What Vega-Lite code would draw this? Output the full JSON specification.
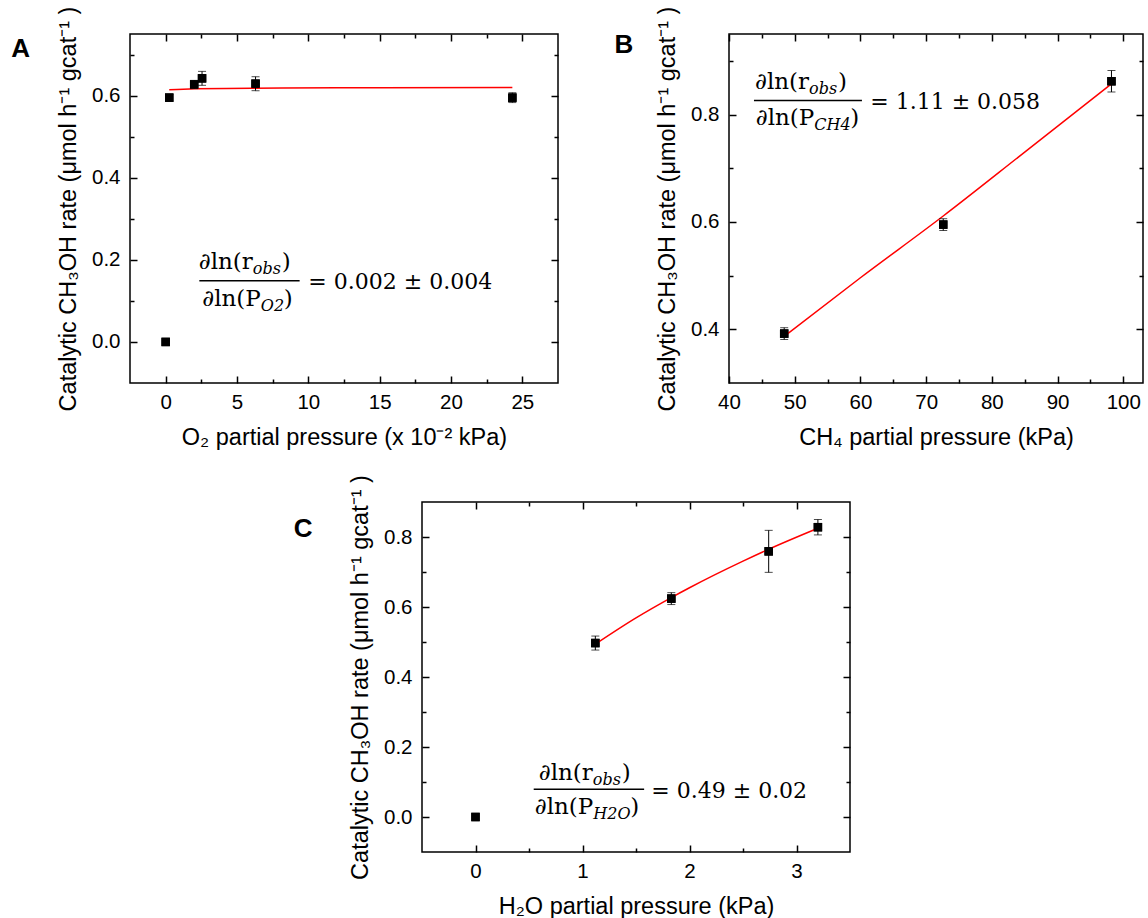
{
  "$schema": "https://vega.github.io/schema/vega-lite/v6.json",
  "background": "white",
  "padding": {"left": 10, "top": 5, "right": 0, "bottom": 0},
  "config": {
    "font": "Liberation Sans",
    "view": {"stroke": "black", "strokeWidth": 1.5},
    "axis": {
      "labelFont": "Liberation Sans", "labelFontSize": 20.5, "labelColor": "black",
      "titleFont": "Liberation Sans", "titleFontSize": 23.5, "titleFontWeight": "normal", "titleColor": "black",
      "tickColor": "black", "tickWidth": 1.5, "domain": false, "grid": false,
      "labelOverlap": false, "labelFlush": false
    },
    "axisX": {"labelPadding": 16, "titlePadding": 10},
    "axisY": {"labelPadding": 17, "titlePadding": 11}
  },
  "datasets": {
    "ptsA": [
      {"p": 0, "rate": 0},
      {"p": 0.25, "rate": 0.595, "lo": 0.587, "hi": 0.603},
      {"p": 2.0, "rate": 0.627, "lo": 0.617, "hi": 0.637},
      {"p": 2.55, "rate": 0.642, "lo": 0.625, "hi": 0.659},
      {"p": 6.3, "rate": 0.629, "lo": 0.612, "hi": 0.646},
      {"p": 24.3, "rate": 0.595, "lo": 0.583, "hi": 0.607}
    ],
    "fitA": [
      {"p": 0.25, "fit": 0.614}, {"p": 2, "fit": 0.6166}, {"p": 6, "fit": 0.6179},
      {"p": 12, "fit": 0.6188}, {"p": 24.3, "fit": 0.6197}
    ],
    "ptsB": [
      {"p": 48.4, "rate": 0.392, "lo": 0.381, "hi": 0.403},
      {"p": 72.6, "rate": 0.595, "lo": 0.584, "hi": 0.606},
      {"p": 98.2, "rate": 0.862, "lo": 0.842, "hi": 0.882}
    ],
    "fitB": [
      {"p": 48.4, "fit": 0.387}, {"p": 60, "fit": 0.496}, {"p": 72.6, "fit": 0.611},
      {"p": 85, "fit": 0.73}, {"p": 98.2, "fit": 0.857}
    ],
    "ptsC": [
      {"p": 0, "rate": 0},
      {"p": 1.12, "rate": 0.497, "lo": 0.477, "hi": 0.517},
      {"p": 1.83, "rate": 0.624, "lo": 0.607, "hi": 0.641},
      {"p": 2.74, "rate": 0.759, "lo": 0.699, "hi": 0.819},
      {"p": 3.2, "rate": 0.828, "lo": 0.806, "hi": 0.85}
    ],
    "fitC": [
      {"p": 1.12, "fit": 0.494}, {"p": 1.5, "fit": 0.569}, {"p": 1.83, "fit": 0.627},
      {"p": 2.0, "fit": 0.655}, {"p": 2.5, "fit": 0.731}, {"p": 2.74, "fit": 0.765}, {"p": 3.2, "fit": 0.825}
    ]
  },
  "spacing": 23,
  "vconcat": [
    {
      "spacing": 171,
      "bounds": "flush",
      "hconcat": [
        {
          "width": 428, "height": 349,
          "resolve": {"axis": {"x": "independent", "y": "independent"}},
          "layer": [
            {"data": {"name": "ptsA"}, "mark": {"type": "square", "size": 72, "color": "black", "opacity": 1},
             "encoding": {
               "x": {"field": "p", "type": "quantitative", "scale": {"domain": [-2.5, 27.5], "nice": false, "zero": false},
                     "axis": {"orient": "bottom", "title": "O₂ partial pressure (x 10⁻² kPa)", "values": [0, 2.5, 5, 7.5, 10, 12.5, 15, 17.5, 20, 22.5, 25], "format": ".0f",
                              "labelExpr": "datum.value % 5 == 0 ? datum.label : ''",
                              "tickSize": {"condition": {"test": "datum.value % 5 == 0", "value": -7}, "value": -4}}},
               "y": {"field": "rate", "type": "quantitative", "scale": {"domain": [-0.1, 0.75], "nice": false, "zero": false},
                     "axis": {"orient": "left", "title": "Catalytic CH₃OH rate (μmol h⁻¹ gcat⁻¹ )", "values": [0, 0.1, 0.2, 0.3, 0.4, 0.5, 0.6, 0.7], "format": ".1f",
                              "labelExpr": "round(datum.value*10) % 2 == 0 ? datum.label : ''",
                              "tickSize": {"condition": {"test": "round(datum.value*10) % 2 == 0", "value": -7}, "value": -4}}}
             }},
            {"data": {"name": "ptsA"}, "mark": {"type": "point", "opacity": 0},
             "encoding": {
               "x": {"field": "p", "type": "quantitative",
                     "axis": {"orient": "top", "labels": false, "title": null, "values": [0, 2.5, 5, 7.5, 10, 12.5, 15, 17.5, 20, 22.5, 25],
                              "tickSize": {"condition": {"test": "datum.value % 5 == 0", "value": -7}, "value": -4}}},
               "y": {"field": "rate", "type": "quantitative",
                     "axis": {"orient": "right", "labels": false, "title": null, "values": [0, 0.1, 0.2, 0.3, 0.4, 0.5, 0.6, 0.7],
                              "tickSize": {"condition": {"test": "round(datum.value*10) % 2 == 0", "value": -7}, "value": -4}}}
             }},
            {"data": {"name": "fitA"}, "mark": {"type": "line", "color": "#ff0000", "strokeWidth": 1.5, "interpolate": "monotone"},
             "encoding": {"x": {"field": "p", "type": "quantitative", "axis": null}, "y": {"field": "fit", "type": "quantitative", "axis": null}}},
            {"data": {"name": "ptsA"}, "transform": [{"filter": "isValid(datum.lo)"}],
             "mark": {"type": "errorbar", "ticks": true, "size": 8, "thickness": 1, "color": "black"},
             "encoding": {"x": {"field": "p", "type": "quantitative", "axis": null}, "y": {"field": "lo", "type": "quantitative", "axis": null}, "y2": {"field": "hi"}}},
            {"data": {"name": "ptsA"}, "mark": {"type": "square", "size": 72, "color": "black", "opacity": 1},
             "encoding": {"x": {"field": "p", "type": "quantitative", "axis": null}, "y": {"field": "rate", "type": "quantitative", "axis": null}}},
            {"data": {"values": [{}]}, "mark": {"type": "text", "text": "∂ln(r", "font": "DejaVu Serif", "fontSize": 23, "align": "right", "baseline": "alphabetic", "color": "black"},
             "encoding": {"x": {"datum": 6.11, "type": "quantitative", "axis": null}, "y": {"datum": 0.177, "type": "quantitative", "axis": null}}},
            {"data": {"values": [{}]}, "mark": {"type": "text", "text": "obs", "font": "DejaVu Serif", "fontStyle": "italic", "fontSize": 16, "align": "left", "baseline": "alphabetic", "dy": 5, "color": "black"},
             "encoding": {"x": {"datum": 6.11, "type": "quantitative", "axis": null}, "y": {"datum": 0.177, "type": "quantitative", "axis": null}}},
            {"data": {"values": [{}]}, "mark": {"type": "text", "text": ")", "font": "DejaVu Serif", "fontSize": 23, "align": "left", "baseline": "alphabetic", "dx": 29, "color": "black"},
             "encoding": {"x": {"datum": 6.11, "type": "quantitative", "axis": null}, "y": {"datum": 0.177, "type": "quantitative", "axis": null}}},
            {"data": {"values": [{}]}, "mark": {"type": "text", "text": "∂ln(P", "font": "DejaVu Serif", "fontSize": 23, "align": "right", "baseline": "alphabetic", "color": "black"},
             "encoding": {"x": {"datum": 6.67, "type": "quantitative", "axis": null}, "y": {"datum": 0.088, "type": "quantitative", "axis": null}}},
            {"data": {"values": [{}]}, "mark": {"type": "text", "text": "O2", "font": "DejaVu Serif", "fontStyle": "italic", "fontSize": 16, "align": "left", "baseline": "alphabetic", "dy": 5, "color": "black"},
             "encoding": {"x": {"datum": 6.67, "type": "quantitative", "axis": null}, "y": {"datum": 0.088, "type": "quantitative", "axis": null}}},
            {"data": {"values": [{}]}, "mark": {"type": "text", "text": ")", "font": "DejaVu Serif", "fontSize": 23, "align": "left", "baseline": "alphabetic", "dx": 23, "color": "black"},
             "encoding": {"x": {"datum": 6.67, "type": "quantitative", "axis": null}, "y": {"datum": 0.088, "type": "quantitative", "axis": null}}},
            {"data": {"values": [{}]}, "mark": {"type": "text", "text": "= 0.002 ± 0.004", "font": "DejaVu Serif", "fontSize": 22, "align": "left", "baseline": "alphabetic", "color": "black"},
             "encoding": {"x": {"datum": 10.0, "type": "quantitative", "axis": null}, "y": {"datum": 0.128, "type": "quantitative", "axis": null}}},
            {"data": {"values": [{}]}, "mark": {"type": "rule", "strokeWidth": 1.5, "color": "black"},
             "encoding": {"x": {"datum": 2.36, "type": "quantitative", "axis": null}, "x2": {"datum": 9.39}, "y": {"datum": 0.149, "type": "quantitative", "axis": null}}},
            {"data": {"values": [{}]}, "mark": {"type": "text", "text": "A", "font": "Liberation Sans", "fontWeight": "bold", "fontSize": 26, "align": "center", "baseline": "middle", "color": "black"},
             "encoding": {"x": {"datum": -10.17, "type": "quantitative", "axis": null}, "y": {"datum": 0.714, "type": "quantitative", "axis": null}}}
          ]
        },
        {
          "width": 414, "height": 349,
          "resolve": {"axis": {"x": "independent", "y": "independent"}},
          "layer": [
            {"data": {"name": "ptsB"}, "mark": {"type": "square", "size": 72, "color": "black", "opacity": 1},
             "encoding": {
               "x": {"field": "p", "type": "quantitative", "scale": {"domain": [40, 103], "nice": false, "zero": false},
                     "axis": {"orient": "bottom", "title": "CH₄ partial pressure (kPa)", "values": [40, 45, 50, 55, 60, 65, 70, 75, 80, 85, 90, 95, 100], "format": ".0f",
                              "labelExpr": "datum.value % 10 == 0 ? datum.label : ''",
                              "tickSize": {"condition": {"test": "datum.value % 10 == 0", "value": -7}, "value": -4}}},
               "y": {"field": "rate", "type": "quantitative", "scale": {"domain": [0.3, 0.95], "nice": false, "zero": false},
                     "axis": {"orient": "left", "title": "Catalytic CH₃OH rate (μmol h⁻¹ gcat⁻¹ )", "values": [0.4, 0.5, 0.6, 0.7, 0.8, 0.9], "format": ".1f",
                              "labelExpr": "round(datum.value*10) % 2 == 0 ? datum.label : ''",
                              "tickSize": {"condition": {"test": "round(datum.value*10) % 2 == 0", "value": -7}, "value": -4}}}
             }},
            {"data": {"name": "ptsB"}, "mark": {"type": "point", "opacity": 0},
             "encoding": {
               "x": {"field": "p", "type": "quantitative",
                     "axis": {"orient": "top", "labels": false, "title": null, "values": [40, 45, 50, 55, 60, 65, 70, 75, 80, 85, 90, 95, 100],
                              "tickSize": {"condition": {"test": "datum.value % 10 == 0", "value": -7}, "value": -4}}},
               "y": {"field": "rate", "type": "quantitative",
                     "axis": {"orient": "right", "labels": false, "title": null, "values": [0.4, 0.5, 0.6, 0.7, 0.8, 0.9],
                              "tickSize": {"condition": {"test": "round(datum.value*10) % 2 == 0", "value": -7}, "value": -4}}}
             }},
            {"data": {"name": "fitB"}, "mark": {"type": "line", "color": "#ff0000", "strokeWidth": 1.5, "interpolate": "monotone"},
             "encoding": {"x": {"field": "p", "type": "quantitative", "axis": null}, "y": {"field": "fit", "type": "quantitative", "axis": null}}},
            {"data": {"name": "ptsB"}, "mark": {"type": "errorbar", "ticks": true, "size": 8, "thickness": 1, "color": "black"},
             "encoding": {"x": {"field": "p", "type": "quantitative", "axis": null}, "y": {"field": "lo", "type": "quantitative", "axis": null}, "y2": {"field": "hi"}}},
            {"data": {"name": "ptsB"}, "mark": {"type": "square", "size": 72, "color": "black", "opacity": 1},
             "encoding": {"x": {"field": "p", "type": "quantitative", "axis": null}, "y": {"field": "rate", "type": "quantitative", "axis": null}}},
            {"data": {"values": [{}]}, "mark": {"type": "text", "text": "∂ln(r", "font": "DejaVu Serif", "fontSize": 23, "align": "right", "baseline": "alphabetic", "color": "black"},
             "encoding": {"x": {"datum": 52.18, "type": "quantitative", "axis": null}, "y": {"datum": 0.848, "type": "quantitative", "axis": null}}},
            {"data": {"values": [{}]}, "mark": {"type": "text", "text": "obs", "font": "DejaVu Serif", "fontStyle": "italic", "fontSize": 16, "align": "left", "baseline": "alphabetic", "dy": 5, "color": "black"},
             "encoding": {"x": {"datum": 52.18, "type": "quantitative", "axis": null}, "y": {"datum": 0.848, "type": "quantitative", "axis": null}}},
            {"data": {"values": [{}]}, "mark": {"type": "text", "text": ")", "font": "DejaVu Serif", "fontSize": 23, "align": "left", "baseline": "alphabetic", "dx": 29, "color": "black"},
             "encoding": {"x": {"datum": 52.18, "type": "quantitative", "axis": null}, "y": {"datum": 0.848, "type": "quantitative", "axis": null}}},
            {"data": {"values": [{}]}, "mark": {"type": "text", "text": "∂ln(P", "font": "DejaVu Serif", "fontSize": 23, "align": "right", "baseline": "alphabetic", "color": "black"},
             "encoding": {"x": {"datum": 52.98, "type": "quantitative", "axis": null}, "y": {"datum": 0.781, "type": "quantitative", "axis": null}}},
            {"data": {"values": [{}]}, "mark": {"type": "text", "text": "CH4", "font": "DejaVu Serif", "fontStyle": "italic", "fontSize": 16, "align": "left", "baseline": "alphabetic", "dy": 5, "color": "black"},
             "encoding": {"x": {"datum": 52.98, "type": "quantitative", "axis": null}, "y": {"datum": 0.781, "type": "quantitative", "axis": null}}},
            {"data": {"values": [{}]}, "mark": {"type": "text", "text": ")", "font": "DejaVu Serif", "fontSize": 23, "align": "left", "baseline": "alphabetic", "dx": 36, "color": "black"},
             "encoding": {"x": {"datum": 52.98, "type": "quantitative", "axis": null}, "y": {"datum": 0.781, "type": "quantitative", "axis": null}}},
            {"data": {"values": [{}]}, "mark": {"type": "text", "text": "= 1.11 ± 0.058", "font": "DejaVu Serif", "fontSize": 22, "align": "left", "baseline": "alphabetic", "color": "black"},
             "encoding": {"x": {"datum": 61.5, "type": "quantitative", "axis": null}, "y": {"datum": 0.811, "type": "quantitative", "axis": null}}},
            {"data": {"values": [{}]}, "mark": {"type": "rule", "strokeWidth": 1.5, "color": "black"},
             "encoding": {"x": {"datum": 43.8, "type": "quantitative", "axis": null}, "x2": {"datum": 60.23}, "y": {"datum": 0.826, "type": "quantitative", "axis": null}}},
            {"data": {"values": [{}]}, "mark": {"type": "text", "text": "B", "font": "Liberation Sans", "fontWeight": "bold", "fontSize": 26, "align": "center", "baseline": "middle", "color": "black"},
             "encoding": {"x": {"datum": 23.99, "type": "quantitative", "axis": null}, "y": {"datum": 0.929, "type": "quantitative", "axis": null}}}
          ]
        }
      ]
    },
    {
      "spacing": 20,
      "bounds": "flush",
      "hconcat": [
        {"width": 272, "height": 349, "data": {"values": [{}]}, "mark": {"type": "point", "opacity": 0}, "view": {"stroke": null}},
        {
          "width": 428, "height": 350,
          "resolve": {"axis": {"x": "independent", "y": "independent"}},
          "layer": [
            {"data": {"name": "ptsC"}, "mark": {"type": "square", "size": 72, "color": "black", "opacity": 1},
             "encoding": {
               "x": {"field": "p", "type": "quantitative", "scale": {"domain": [-0.5, 3.5], "nice": false, "zero": false},
                     "axis": {"orient": "bottom", "title": "H₂O partial pressure (kPa)", "values": [0, 0.5, 1, 1.5, 2, 2.5, 3], "format": ".0f",
                              "labelExpr": "datum.value == round(datum.value) ? datum.label : ''",
                              "tickSize": {"condition": {"test": "datum.value == round(datum.value)", "value": -7}, "value": -4}}},
               "y": {"field": "rate", "type": "quantitative", "scale": {"domain": [-0.1, 0.9], "nice": false, "zero": false},
                     "axis": {"orient": "left", "title": "Catalytic CH₃OH rate (μmol h⁻¹ gcat⁻¹ )", "values": [0, 0.1, 0.2, 0.3, 0.4, 0.5, 0.6, 0.7, 0.8], "format": ".1f",
                              "labelExpr": "round(datum.value*10) % 2 == 0 ? datum.label : ''",
                              "tickSize": {"condition": {"test": "round(datum.value*10) % 2 == 0", "value": -7}, "value": -4}}}
             }},
            {"data": {"name": "ptsC"}, "mark": {"type": "point", "opacity": 0},
             "encoding": {
               "x": {"field": "p", "type": "quantitative",
                     "axis": {"orient": "top", "labels": false, "title": null, "values": [0, 0.5, 1, 1.5, 2, 2.5, 3],
                              "tickSize": {"condition": {"test": "datum.value == round(datum.value)", "value": -7}, "value": -4}}},
               "y": {"field": "rate", "type": "quantitative",
                     "axis": {"orient": "right", "labels": false, "title": null, "values": [0, 0.1, 0.2, 0.3, 0.4, 0.5, 0.6, 0.7, 0.8],
                              "tickSize": {"condition": {"test": "round(datum.value*10) % 2 == 0", "value": -7}, "value": -4}}}
             }},
            {"data": {"name": "fitC"}, "mark": {"type": "line", "color": "#ff0000", "strokeWidth": 1.5, "interpolate": "monotone"},
             "encoding": {"x": {"field": "p", "type": "quantitative", "axis": null}, "y": {"field": "fit", "type": "quantitative", "axis": null}}},
            {"data": {"name": "ptsC"}, "transform": [{"filter": "isValid(datum.lo)"}],
             "mark": {"type": "errorbar", "ticks": true, "size": 8, "thickness": 1, "color": "black"},
             "encoding": {"x": {"field": "p", "type": "quantitative", "axis": null}, "y": {"field": "lo", "type": "quantitative", "axis": null}, "y2": {"field": "hi"}}},
            {"data": {"name": "ptsC"}, "mark": {"type": "square", "size": 72, "color": "black", "opacity": 1},
             "encoding": {"x": {"field": "p", "type": "quantitative", "axis": null}, "y": {"field": "rate", "type": "quantitative", "axis": null}}},
            {"data": {"values": [{}]}, "mark": {"type": "text", "text": "∂ln(r", "font": "DejaVu Serif", "fontSize": 23, "align": "right", "baseline": "alphabetic", "color": "black"},
             "encoding": {"x": {"datum": 1.096, "type": "quantitative", "axis": null}, "y": {"datum": 0.105, "type": "quantitative", "axis": null}}},
            {"data": {"values": [{}]}, "mark": {"type": "text", "text": "obs", "font": "DejaVu Serif", "fontStyle": "italic", "fontSize": 16, "align": "left", "baseline": "alphabetic", "dy": 5, "color": "black"},
             "encoding": {"x": {"datum": 1.096, "type": "quantitative", "axis": null}, "y": {"datum": 0.105, "type": "quantitative", "axis": null}}},
            {"data": {"values": [{}]}, "mark": {"type": "text", "text": ")", "font": "DejaVu Serif", "fontSize": 23, "align": "left", "baseline": "alphabetic", "dx": 29, "color": "black"},
             "encoding": {"x": {"datum": 1.096, "type": "quantitative", "axis": null}, "y": {"datum": 0.105, "type": "quantitative", "axis": null}}},
            {"data": {"values": [{}]}, "mark": {"type": "text", "text": "∂ln(P", "font": "DejaVu Serif", "fontSize": 23, "align": "right", "baseline": "alphabetic", "color": "black"},
             "encoding": {"x": {"datum": 1.101, "type": "quantitative", "axis": null}, "y": {"datum": 0.008, "type": "quantitative", "axis": null}}},
            {"data": {"values": [{}]}, "mark": {"type": "text", "text": "H2O", "font": "DejaVu Serif", "fontStyle": "italic", "fontSize": 16, "align": "left", "baseline": "alphabetic", "dy": 5, "color": "black"},
             "encoding": {"x": {"datum": 1.101, "type": "quantitative", "axis": null}, "y": {"datum": 0.008, "type": "quantitative", "axis": null}}},
            {"data": {"values": [{}]}, "mark": {"type": "text", "text": ")", "font": "DejaVu Serif", "fontSize": 23, "align": "left", "baseline": "alphabetic", "dx": 37, "color": "black"},
             "encoding": {"x": {"datum": 1.101, "type": "quantitative", "axis": null}, "y": {"datum": 0.008, "type": "quantitative", "axis": null}}},
            {"data": {"values": [{}]}, "mark": {"type": "text", "text": "= 0.49 ± 0.02", "font": "DejaVu Serif", "fontSize": 22, "align": "left", "baseline": "alphabetic", "color": "black"},
             "encoding": {"x": {"datum": 1.643, "type": "quantitative", "axis": null}, "y": {"datum": 0.053, "type": "quantitative", "axis": null}}},
            {"data": {"values": [{}]}, "mark": {"type": "rule", "strokeWidth": 1.5, "color": "black"},
             "encoding": {"x": {"datum": 0.544, "type": "quantitative", "axis": null}, "x2": {"datum": 1.576}, "y": {"datum": 0.079, "type": "quantitative", "axis": null}}},
            {"data": {"values": [{}]}, "mark": {"type": "text", "text": "C", "font": "Liberation Sans", "fontWeight": "bold", "fontSize": 26, "align": "center", "baseline": "middle", "color": "black"},
             "encoding": {"x": {"datum": -1.612, "type": "quantitative", "axis": null}, "y": {"datum": 0.823, "type": "quantitative", "axis": null}}}
          ]
        }
      ]
    }
  ]
}
